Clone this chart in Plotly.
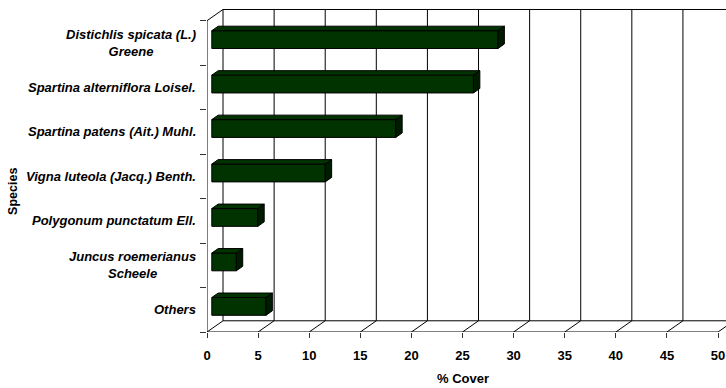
import plotly.graph_objects as go

# Species cover data (top to bottom)
species = [
    "Distichlis spicata (L.)<br>Greene",
    "Spartina alterniflora Loisel.",
    "Spartina patens (Ait.) Muhl.",
    "Vigna luteola (Jacq.) Benth.",
    "Polygonum punctatum Ell.",
    "Juncus roemerianus<br>Scheele",
    "Others",
]
cover = [28.0, 25.6, 18.0, 11.1, 4.5, 2.4, 5.3]
x_ticks = [0, 5, 10, 15, 20, 25, 30, 35, 40, 45, 50]

# Oblique depth of the pseudo-3D box, in data units (x, y)
DEPTH_X = 1.566
DEPTH_Y = 0.252
BAR_FRONT = 0.3   # fraction of depth where the bar's front face sits
BAR_BACK = 0.7    # fraction of depth where the bar's back face sits
BAR_HALF = 0.2    # half of bar thickness (band = 1)

FONT = "Liberation Sans, Arial, sans-serif"
n = len(species)
centers = [n - i - 0.5 for i in range(n)]

fig = go.Figure()


def line(xs, ys, color="#000000", width=1):
    fig.add_trace(go.Scatter(x=xs, y=ys, mode="lines",
                             line=dict(color=color, width=width),
                             hoverinfo="skip", showlegend=False))


def poly(xs, ys, fill):
    fig.add_trace(go.Scatter(x=xs + [xs[0]], y=ys + [ys[0]], mode="lines",
                             fill="toself", fillcolor=fill,
                             line=dict(color="#000000", width=1),
                             hoverinfo="skip", showlegend=False))


# Back wall: gridlines at every tick, plus top and bottom edges
for t in x_ticks:
    line([t + DEPTH_X, t + DEPTH_X], [DEPTH_Y, n + DEPTH_Y])
line([DEPTH_X, 60], [n + DEPTH_Y, n + DEPTH_Y])
line([DEPTH_X, 60], [DEPTH_Y, DEPTH_Y])

# Floor: front edge and receding lines at each tick
line([x_ticks[0], x_ticks[-1], x_ticks[-1] + DEPTH_X], [0, 0, DEPTH_Y])
for t in x_ticks[:-1]:
    line([t, t + DEPTH_X], [0, DEPTH_Y])

# Left wall front edge with its top receding edge
line([0, 0, DEPTH_X], [0, n, n + DEPTH_Y])

# Bars: front, top and side faces
fx, fy = BAR_FRONT * DEPTH_X, BAR_FRONT * DEPTH_Y
dx, dy = (BAR_BACK - BAR_FRONT) * DEPTH_X, (BAR_BACK - BAR_FRONT) * DEPTH_Y
for c, v in zip(centers, cover):
    x0, x1 = fx, v + fx
    yb, yt = c - BAR_HALF + fy, c + BAR_HALF + fy
    poly([x0, x1, x1, x0], [yb, yb, yt, yt], "#003300")
    poly([x0, x0 + dx, x1 + dx, x1], [yt, yt + dy, yt + dy, yt], "#003300")
    poly([x1, x1 + dx, x1 + dx, x1], [yb, yb + dy, yt + dy, yt], "#001c00")

# Category labels, centred multi-line blocks right of the axis
for c, s in zip(centers, species):
    fig.add_annotation(x=0, xref="x", y=c, yref="y", text=f"<b><i>{s}</i></b>",
                       xanchor="right", yanchor="middle", align="center",
                       xshift=-9, showarrow=False,
                       font=dict(family=FONT, size=13, color="#000000"))

fig.add_annotation(x=0, xref="paper", xanchor="center", xshift=-194,
                   y=3.15, yref="y", text="<b>Species</b>", textangle=-90,
                   showarrow=False, font=dict(family=FONT, size=12.5, color="#000000"))
fig.add_annotation(x=25, xref="x", y=0, yref="paper", yanchor="top", yshift=-37,
                   text="<b>% Cover</b>", showarrow=False,
                   font=dict(family=FONT, size=13, color="#000000"))

fig.update_xaxes(range=[0, 50.78], tickvals=x_ticks, ticktext=[str(t) for t in x_ticks],
                 ticks="outside", ticklen=5, tickcolor="#333333", tickwidth=1,
                 showgrid=False, zeroline=False, showline=False,
                 ticklabelstandoff=6,
                 tickfont=dict(family=FONT, size=13, color="#000000", weight="bold"))
fig.update_yaxes(range=[0, 7.353], tickvals=list(range(n + 1)),
                 ticktext=[""] * (n + 1), ticks="outside", ticklen=6,
                 tickcolor="#333333", tickwidth=1,
                 showgrid=False, zeroline=False, showline=False)

fig.update_layout(width=726, height=388,
                  margin=dict(l=207, r=0, t=5, b=56),
                  paper_bgcolor="#ffffff", plot_bgcolor="#ffffff",
                  showlegend=False)

fig.write_html("out.html")
